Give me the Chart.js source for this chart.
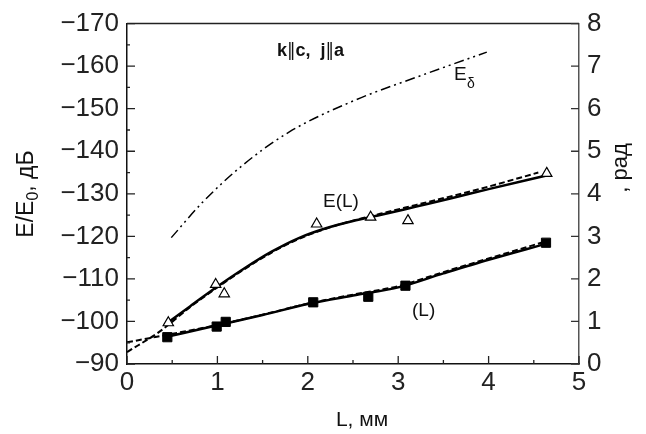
<!DOCTYPE html>
<html>
<head>
<meta charset="utf-8">
<script src="https://cdn.jsdelivr.net/npm/chart.js@4"></script>
<style>
  html, body { margin: 0; padding: 0; background: #fff; }
  #wrap { width: 646px; height: 434px; }
</style>
</head>
<body>
<div id="wrap"><canvas id="grafico" width="646" height="434"></canvas></div>
<script>
// puntos medidos E(L), dB
const eL   = [0.457, 0.981, 1.076, 2.098, 2.695, 3.108, 4.643];
const eVal = [-99.7, -108.7, -106.5, -122.9, -124.5, -123.7, -134.8];
// puntos medidos de fase, rad
const faseL   = [0.446, 0.992, 1.092, 2.06, 2.669, 3.08, 4.635];
const faseVal = [0.63, 0.88, 0.99, 1.45, 1.58, 1.84, 2.85];

// curvas
const eSolidL   = [0.42, 0.7, 1, 1.3, 1.6, 1.9, 2.2, 2.5, 2.8, 3.2, 3.6, 4, 4.64];
const eSolidVal = [-99.2, -103.6, -108.2, -112.5, -116.4, -119.6, -121.9, -123.6, -125.0, -127.0, -129.0, -131.1, -134.3];
const eDashL    = [0, 0.36, 0.7, 1, 1.3, 1.6, 1.9, 2.2, 2.5, 2.8, 3.2, 3.6, 4, 4.55];
const eDashVal  = [-92.8, -97.6, -103.4, -108, -112.3, -116.2, -119.4, -121.8, -123.7, -125.3, -127.4, -129.5, -131.7, -135.0];
const faseSolidL   = [0.44, 1, 1.5, 2, 2.5, 3, 3.5, 4, 4.64];
const faseSolidVal = [0.64, 0.91, 1.15, 1.41, 1.61, 1.80, 2.13, 2.45, 2.83];
const faseDashL    = [0, 0.33, 1, 1.5, 2, 2.5, 3, 3.5, 4, 4.6];
const faseDashVal  = [0.51, 0.64, 0.92, 1.16, 1.42, 1.63, 1.83, 2.16, 2.48, 2.86];
const eDeltaL   = [0.49, 0.84, 1.29, 1.8, 2.5, 3.24, 3.98];
const eDeltaVal = [-119.7, -128.1, -136.9, -144.6, -151.8, -157.7, -163.3];

const xTicks  = [0, 1, 2, 3, 4, 5];
const yTicks  = [-170, -160, -150, -140, -130, -120, -110, -100, -90];
const y2Ticks = [0, 1, 2, 3, 4, 5, 6, 7, 8];

const FUENTE = "'Liberation Sans', Arial, sans-serif";

function puntos(xs, ys){
    return xs.map((x, i) => ({ x: x, y: ys[i] }));
}

function linea(xs, ys, eje, dash, ancho){
    return {
        data: puntos(xs, ys),
        yAxisID: eje,
        showLine: true,
        borderColor: '#000',
        borderWidth: ancho,
        borderDash: dash,
        pointRadius: 0,
        cubicInterpolationMode: 'monotone',
        fill: false
    };
}

// texto por partes con distintas fuentes
function textoPartes(ctx, partes, x, y){
    partes.forEach(p => {
        ctx.font = p[1];
        ctx.fillText(p[0], x, y);
        x += ctx.measureText(p[0]).width;
    });
}

// ticks hacia adentro, borde superior y textos
const decoracion = {
    id: 'decoracion',
    afterDraw(chart){
        const ctx = chart.ctx;
        const a = chart.chartArea;
        const sx = chart.scales.x, sy = chart.scales.y, sy2 = chart.scales.y2;
        ctx.save();
        ctx.strokeStyle = '#222';
        ctx.lineWidth = 1.5;
        ctx.beginPath();
        ctx.moveTo(a.left, a.top);
        ctx.lineTo(a.right, a.top);
        ctx.stroke();

        ctx.lineWidth = 1.3;
        ctx.beginPath();
        for (let v = 0; v <= 5.001; v += 0.5){
            const px = sx.getPixelForValue(v);
            const len = Math.abs(v - Math.round(v)) < 0.01 ? 8 : 4;
            ctx.moveTo(px, a.bottom);
            ctx.lineTo(px, a.bottom - len);
        }
        for (let v = -170; v <= -90; v += 5){
            const py = sy.getPixelForValue(v);
            const len = v % 10 === 0 ? 8 : 3;
            ctx.moveTo(a.left, py);
            ctx.lineTo(a.left + len, py);
        }
        ctx.stroke();
        ctx.strokeStyle = '#333';
        ctx.beginPath();
        y2Ticks.forEach(v => {
            const py = sy2.getPixelForValue(v);
            ctx.moveTo(a.right, py);
            ctx.lineTo(a.right - 8, py);
        });
        ctx.stroke();

        ctx.fillStyle = '#111';
        ctx.textBaseline = 'alphabetic';
        ctx.textAlign = 'left';
        // titulo interior
        const bold = 'bold 18px ' + FUENTE;
        const bar = '17px "DejaVu Sans", sans-serif';
        textoPartes(ctx, [['k', bold], ['\u2016', bar], ['c,  j', bold], ['\u2016', bar], ['a', bold]], 277, 56);
        // etiquetas de curvas
        ctx.font = '19px ' + FUENTE;
        ctx.fillText('E', 454, 80);
        ctx.font = '14px ' + FUENTE;
        ctx.fillText('\u03b4', 467, 88);
        ctx.font = '19px ' + FUENTE;
        ctx.fillText('E(L)', 323, 207);
        ctx.fillText('(L)', 412, 316);
        // titulo eje x
        ctx.font = '21px ' + FUENTE;
        ctx.textAlign = 'center';
        ctx.fillText('L, мм', 362, 426);

        // titulo eje y izquierdo
        ctx.save();
        ctx.translate(33, 194);
        ctx.rotate(-Math.PI / 2);
        ctx.textAlign = 'left';
        ctx.font = '23px ' + FUENTE;
        const p1 = 'E/E', p2 = '0', p3 = ', дБ';
        const w1 = ctx.measureText(p1).width;
        const w3 = ctx.measureText(p3).width;
        ctx.font = '16px ' + FUENTE;
        const w2 = ctx.measureText(p2).width;
        const x0 = -(w1 + w2 + w3) / 2;
        ctx.font = '23px ' + FUENTE;
        ctx.fillText(p1, x0, 0);
        ctx.fillText(p3, x0 + w1 + w2, 0);
        ctx.font = '16px ' + FUENTE;
        ctx.fillText(p2, x0 + w1, 5);
        ctx.restore();

        // titulo eje y derecho
        ctx.save();
        ctx.translate(627, 168);
        ctx.rotate(-Math.PI / 2);
        ctx.textAlign = 'center';
        ctx.font = '22px ' + FUENTE;
        ctx.fillText(', рад', 0, 0);
        ctx.restore();
        ctx.restore();
    }
};

const fmtMenos = v => String(v).replace('-', '\u2212');

let grafico = new Chart(
    document.getElementById('grafico').getContext('2d'), {
    type: 'scatter',
    data: {
        datasets: [
            {
                data: puntos(eL, eVal),
                yAxisID: 'y',
                pointStyle: 'triangle',
                pointRadius: 6,
                pointBackgroundColor: '#fff',
                pointBorderColor: '#000',
                pointBorderWidth: 1.2,
                showLine: false
            },
            {
                data: puntos(faseL, faseVal),
                yAxisID: 'y2',
                pointStyle: 'rect',
                pointRadius: 6.5,
                pointBackgroundColor: '#000',
                pointBorderColor: '#000',
                pointBorderWidth: 1,
                showLine: false
            },
            linea(eSolidL, eSolidVal, 'y', [], 2.5),
            linea(eDashL, eDashVal, 'y', [6, 3], 2),
            linea(faseSolidL, faseSolidVal, 'y2', [], 2.5),
            linea(faseDashL, faseDashVal, 'y2', [6, 3], 2),
            linea(eDeltaL, eDeltaVal, 'y', [10, 4, 2, 4, 2, 4], 1.5)
        ]
    },
    options: {
        responsive: false,
        animation: false,
        layout: { padding: { top: 16, left: 0, right: 0, bottom: 0 } },
        plugins: {
            legend: { display: false },
            tooltip: { enabled: false }
        },
        scales: {
            x: {
                type: 'linear',
                min: 0,
                max: 5,
                afterBuildTicks: s => { s.ticks = xTicks.map(v => ({ value: v })); },
                ticks: { font: { size: 26, family: FUENTE }, color: '#222', padding: 3 },
                grid: { drawOnChartArea: false, drawTicks: false },
                border: { color: '#111', width: 1.5 },
                afterFit: s => { s.height = 70; }
            },
            y: {
                position: 'left',
                min: -170,
                max: -90,
                reverse: true,
                afterBuildTicks: s => { s.ticks = yTicks.map(v => ({ value: v })); },
                ticks: { font: { size: 26, family: FUENTE }, color: '#222', padding: 8, callback: fmtMenos },
                grid: { drawOnChartArea: false, drawTicks: false },
                border: { color: '#111', width: 1.5 },
                afterFit: s => { s.width = 127; }
            },
            y2: {
                position: 'right',
                min: 0,
                max: 8,
                afterBuildTicks: s => { s.ticks = y2Ticks.map(v => ({ value: v })); },
                ticks: { font: { size: 26, family: FUENTE }, color: '#222', padding: 8 },
                grid: { drawOnChartArea: false, drawTicks: false },
                border: { color: '#555', width: 1.5 },
                afterFit: s => { s.width = 67; }
            }
        }
    },
    plugins: [decoracion]
});
</script>
</body>
</html>
